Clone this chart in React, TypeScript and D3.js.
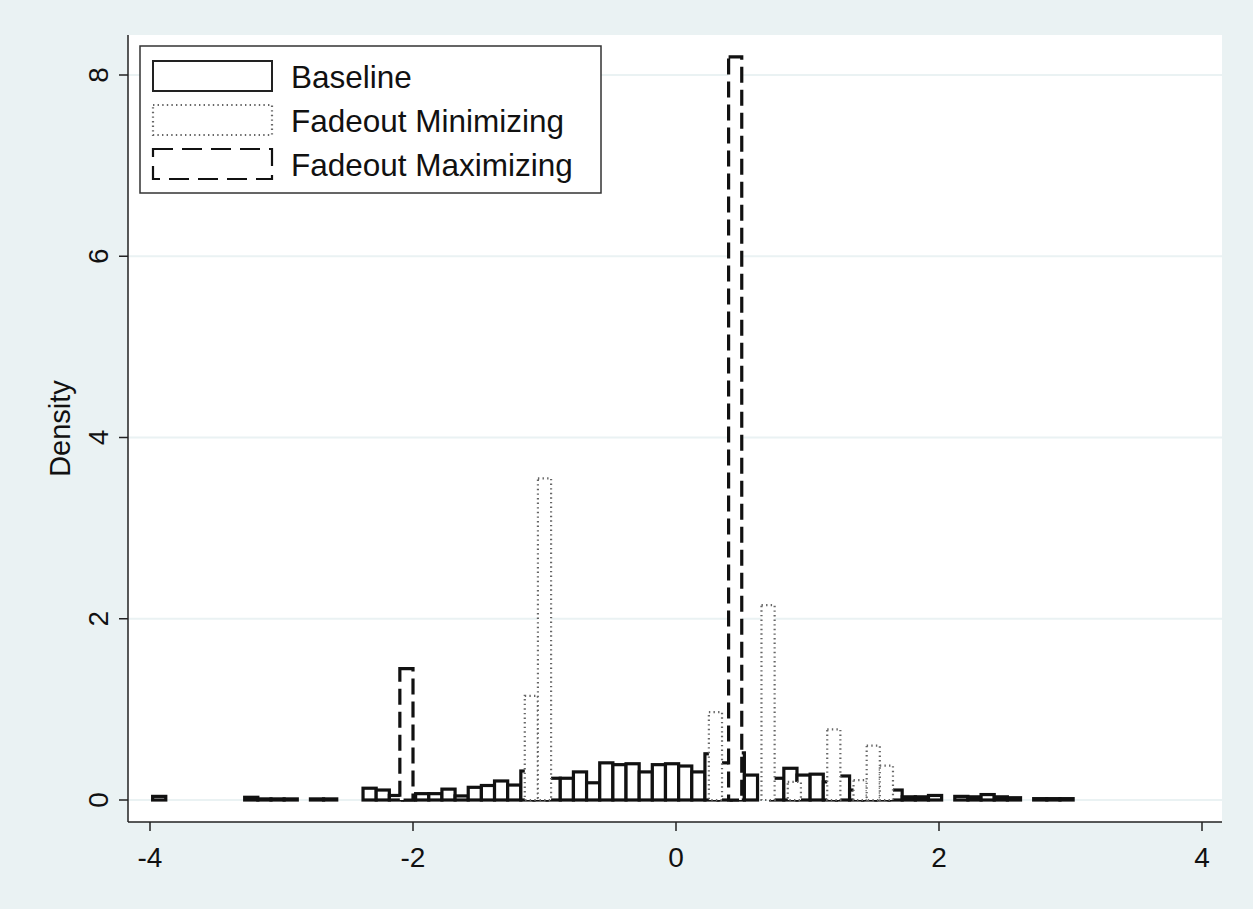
import React from "react";
import { scaleLinear } from "d3";

// bin left edges + densities (bin width 0.1)
const baselineEdges = [
  -3.98, -3.28, -3.18, -3.08, -2.98, -2.78, -2.68, -2.38, -2.28, -2.18, -2.08,
  -1.98, -1.88, -1.78, -1.68, -1.58, -1.48, -1.38, -1.28, -1.18, -1.08, -0.98,
  -0.88, -0.78, -0.68, -0.58, -0.48, -0.38, -0.28, -0.18, -0.08, 0.02, 0.12,
  0.22, 0.32, 0.42, 0.52, 0.72, 0.82, 0.92, 1.02, 1.12, 1.22, 1.32, 1.42, 1.52,
  1.62, 1.72, 1.82, 1.92, 2.12, 2.22, 2.32, 2.42, 2.52, 2.72, 2.82, 2.92,
];
const baselineDensity = [
  0.04, 0.03, 0.012, 0.012, 0.012, 0.012, 0.012, 0.13, 0.11, 0.05, 0.05,
  0.07, 0.07, 0.12, 0.045, 0.14, 0.16, 0.21, 0.165, 0.32, 0.3, 0.24,
  0.24, 0.31, 0.19, 0.41, 0.39, 0.4, 0.31, 0.39, 0.4, 0.375, 0.31,
  0.51, 0.41, 0.52, 0.275, 0.24, 0.35, 0.275, 0.285, 0.2, 0.265, 0.11, 0.05, 0.05,
  0.11, 0.035, 0.035, 0.05, 0.04, 0.035, 0.06, 0.035, 0.025, 0.015, 0.015, 0.015,
];

const minimizingEdges = [-1.15, -1.05, 0.25, 0.65, 0.85, 1.15, 1.35, 1.45, 1.55];
const minimizingDensity = [1.15, 3.55, 0.97, 2.15, 0.2, 0.78, 0.22, 0.6, 0.38];

const maximizingEdges = [-2.1, 0.4];
const maximizingDensity = [1.45, 8.2];

const binWidth = 0.1;
const xTicks = [-4, -2, 0, 2, 4];
const yTicks = [0, 2, 4, 6, 8];
const legendLabels = ["Baseline", "Fadeout Minimizing", "Fadeout Maximizing"];

const W = 1253;
const H = 909;
const plot = { left: 128, right: 1222, top: 35, bottom: 822 };
const font = "'Liberation Sans', Arial, Helvetica, sans-serif";

const styles = [
  { stroke: "#111", strokeWidth: 3.2, dash: undefined },
  { stroke: "#666", strokeWidth: 2.2, dash: "1.4 3.2" },
  { stroke: "#111", strokeWidth: 3.2, dash: "16 7" },
];

const Bars = ({ edges, values, x, y, style }) => (
  <g>
    {edges.map((e, i) => (
      <rect
        key={i}
        x={x(e)}
        y={y(values[i])}
        width={x(e + binWidth) - x(e)}
        height={y(0) - y(values[i])}
        fill="white"
        stroke={style.stroke}
        strokeWidth={style.strokeWidth}
        strokeDasharray={style.dash}
      />
    ))}
  </g>
);

export default function App() {
  const x = scaleLinear().domain([-4, 4]).range([150, 1202]);
  const y = scaleLinear().domain([0, 8]).range([800, 75]);

  return (
    <svg
      width={W}
      height={H}
      style={{ position: "absolute", left: 0, top: 0 }}
      fontFamily={font}
    >
      <rect width={W} height={H} fill="#eaf2f3" />
      <rect
        x={plot.left}
        y={plot.top}
        width={plot.right - plot.left}
        height={plot.bottom - plot.top}
        fill="white"
      />
      {yTicks.map((t) => (
        <line
          key={t}
          x1={plot.left}
          x2={plot.right}
          y1={y(t)}
          y2={y(t)}
          stroke="#eaf2f3"
          strokeWidth={2}
        />
      ))}

      <Bars edges={baselineEdges} values={baselineDensity} x={x} y={y} style={styles[0]} />
      <Bars edges={minimizingEdges} values={minimizingDensity} x={x} y={y} style={styles[1]} />
      <Bars edges={maximizingEdges} values={maximizingDensity} x={x} y={y} style={styles[2]} />

      {/* axes */}
      <line x1={plot.left} x2={plot.left} y1={plot.top} y2={plot.bottom} stroke="#222" strokeWidth={1.5} />
      <line x1={plot.left} x2={plot.right} y1={plot.bottom} y2={plot.bottom} stroke="#222" strokeWidth={1.5} />
      {xTicks.map((t) => (
        <g key={t} transform={`translate(${x(t)},${plot.bottom})`}>
          <line y2={9} stroke="#222" strokeWidth={1.5} />
          <text y={45} textAnchor="middle" fontSize={28} fill="#111">
            {t}
          </text>
        </g>
      ))}
      {yTicks.map((t) => (
        <g key={t} transform={`translate(${plot.left},${y(t)})`}>
          <line x2={-9} stroke="#222" strokeWidth={1.5} />
          <text
            transform="translate(-20,0) rotate(-90)"
            textAnchor="middle"
            fontSize={28}
            fill="#111"
          >
            {t}
          </text>
        </g>
      ))}
      <text
        transform={`translate(70,${(plot.top + plot.bottom) / 2}) rotate(-90)`}
        textAnchor="middle"
        fontSize={29}
        fill="#111"
      >
        Density
      </text>

      {/* legend */}
      <g transform="translate(140,46)">
        <rect width={461} height={147} fill="white" stroke="#333" strokeWidth={1.5} />
        {legendLabels.map((label, i) => (
          <g key={label} transform={`translate(0,${15 + i * 44})`}>
            <rect
              x={13}
              width={119}
              height={30}
              fill="white"
              stroke={i === 0 ? "#222" : styles[i].stroke}
              strokeWidth={i === 0 ? 2 : 2.2}
              strokeDasharray={i === 2 ? "20 9" : styles[i].dash}
            />
            <text x={151} y={27} fontSize={31.5} fill="#111">
              {label}
            </text>
          </g>
        ))}
      </g>
    </svg>
  );
}
